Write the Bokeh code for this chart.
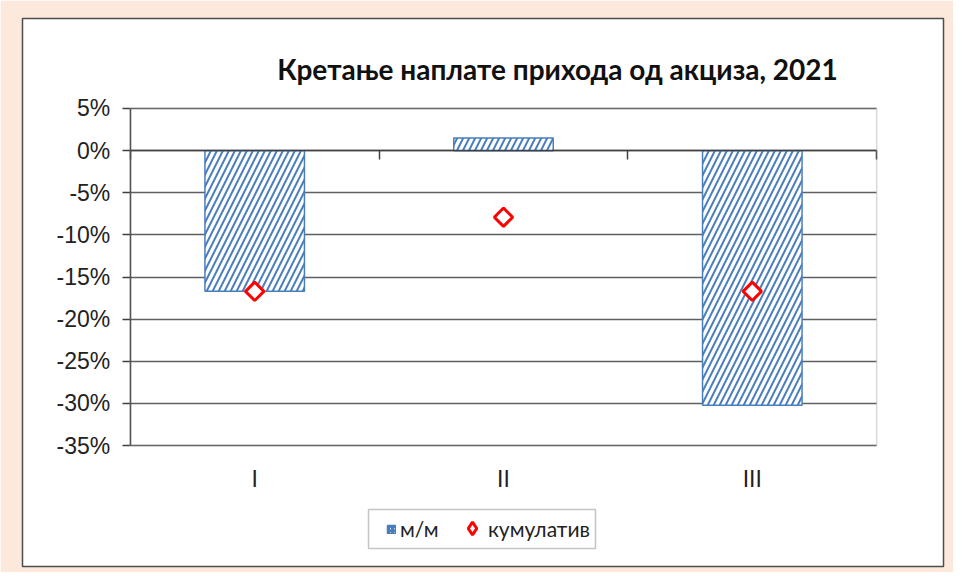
import math
from bokeh.plotting import figure
from bokeh.models import (Range1d, FixedTicker, PrintfTickFormatter, LinearAxis, Grid,
                          Label, BoxAnnotation, Legend, LegendItem, ColumnDataSource)
from bokeh.embed import file_html
from bokeh.resources import INLINE

# ---- data ----
months = ["I", "II", "III"]
mm = [-16.7, 1.5, -30.2]
cumulative = [-16.7, -7.9, -16.7]
y_ticks = [5, 0, -5, -10, -15, -20, -25, -30, -35]
title_text = "Кретање наплате прихода од акциза, 2021"
series_names = ["м/м", "кумулатив"]

BAR_BLUE = "#4a7ebb"
RED = "#ff0000"
BEIGE = "#FCE9DB"
TXT = "#222222"
AXIS = "#404040"

n = len(months)
x_pos = [i + 0.5 for i in range(n)]          # category centres
edges = [float(i) for i in range(n + 1)]      # category boundaries
y_lo, y_hi = min(y_ticks), max(y_ticks)

W, H = 953, 572
p = figure(width=W, height=H,
           x_range=Range1d(-0.4333, 3.2685),
           y_range=Range1d(-49.35, 15.68),
           x_axis_location=None, y_axis_location=None,
           output_backend="svg", toolbar_location=None,
           min_border_left=22, min_border_right=10,
           min_border_top=18, min_border_bottom=6)
p.background_fill_color = "white"
p.border_fill_color = BEIGE
p.outline_line_color = "#4d4d4d"
p.outline_line_width = 1.5

# drop default grids
p.center = [r for r in p.center if not isinstance(r, Grid)]

# horizontal grid lines limited to the plot area
try:
    grid = Grid(dimension=1, ticker=FixedTicker(ticks=y_ticks), cross_bounds=(0, n),
                grid_line_color="#606060", grid_line_width=1.5)
    p.add_layout(grid)
except Exception:
    p.segment(x0=[0] * len(y_ticks), x1=[n] * len(y_ticks), y0=y_ticks, y1=y_ticks,
              line_color="#606060", line_width=1.5)

# plot-area frame
p.add_layout(BoxAnnotation(left=0, right=n, top=y_hi, bottom=y_lo,
                           fill_alpha=0, line_color="#808080", line_width=1.5))

# bars
src = ColumnDataSource(dict(x=x_pos, mm=mm, cum=cumulative))
bars = p.vbar(x="x", top="mm", bottom=0, width=0.4, source=src,
              fill_color="white", line_color=BAR_BLUE, line_width=1.5,
              hatch_pattern="/", hatch_color=BAR_BLUE, hatch_scale=12, hatch_weight=2)
# legend-only swatch (same data, not drawn in the plot)
bars_key = p.vbar(x="x", top="mm", bottom=0, width=0.4, source=src, visible=False,
                  fill_color="white", line_color=BAR_BLUE, line_width=1.5,
                  hatch_pattern="/", hatch_color=BAR_BLUE, hatch_scale=4, hatch_weight=2)

# cumulative markers (diamonds)
pts = p.scatter(x="x", y="cum", source=src, marker="square", angle=math.pi / 4,
                size=13, fill_color="white", line_color=RED, line_width=3)
# legend-only diamond (same data, not drawn in the plot)
pts_key = p.scatter(x="x", y="cum", source=src, marker="diamond",
                    fill_color="white", line_color=RED, line_width=3, visible=False)

# y axis
yax = LinearAxis(fixed_location=0, bounds=(y_lo, y_hi),
                 ticker=FixedTicker(ticks=y_ticks),
                 formatter=PrintfTickFormatter(format="%d%%"),
                 axis_line_color=AXIS, axis_line_width=1.5,
                 major_tick_line_color=AXIS, major_tick_line_width=1.5,
                 major_tick_out=8, major_tick_in=0, minor_tick_line_color=None,
                 major_label_standoff=12,
                 major_label_text_font="Liberation Sans",
                 major_label_text_font_size="23px",
                 major_label_text_color=TXT)
p.add_layout(yax, "left")

# category axis at 0 (line + boundary ticks, no labels)
zax = LinearAxis(fixed_location=0, bounds=(0, n),
                 ticker=FixedTicker(ticks=edges),
                 axis_line_color=AXIS, axis_line_width=1.5,
                 major_tick_line_color=AXIS, major_tick_line_width=1.5,
                 major_tick_out=9, major_tick_in=0, minor_tick_line_color=None,
                 major_label_text_color=None, major_label_text_font_size="1px")
p.add_layout(zax, "below")

# category labels at the bottom
xax = LinearAxis(fixed_location=y_lo, bounds=(0, n),
                 ticker=FixedTicker(ticks=x_pos),
                 major_label_overrides={x: m for x, m in zip(x_pos, months)},
                 axis_line_color=None, major_tick_line_color=None,
                 minor_tick_line_color=None, major_tick_out=0, major_tick_in=0,
                 major_label_standoff=20,
                 major_label_text_font="Liberation Sans",
                 major_label_text_font_size="23px",
                 major_label_text_color=TXT)
p.add_layout(xax, "below")

# legend frame
p.add_layout(BoxAnnotation(left=346, right=573, top=57, bottom=18,
                           left_units="screen", right_units="screen",
                           top_units="screen", bottom_units="screen",
                           fill_color="white", fill_alpha=1.0,
                           line_color=AXIS, line_width=1.5))

common = dict(orientation="horizontal", padding=0, spacing=0, margin=0,
              label_text_font="Lato", label_text_font_size="21px",
              label_text_color=TXT, border_line_color=None,
              background_fill_alpha=0, inactive_fill_alpha=0)
leg_a = Legend(items=[LegendItem(label=series_names[0], renderers=[bars_key])],
               location=(364, 25), glyph_width=10, glyph_height=10,
               label_standoff=4, **common)
leg_b = Legend(items=[LegendItem(label=series_names[1], renderers=[pts_key])],
               location=(434, 22), glyph_width=32, glyph_height=32,
               label_standoff=0, **common)
p.add_layout(leg_a)
p.add_layout(leg_b)

# title
p.add_layout(Label(x=535, y=498, x_units="screen", y_units="screen",
                   text=title_text, text_align="center", text_baseline="middle",
                   text_font="Lato", text_font_style="bold",
                   text_font_size="28px", text_color="#111111"))

open("out.html", "w").write(file_html(p, INLINE))
